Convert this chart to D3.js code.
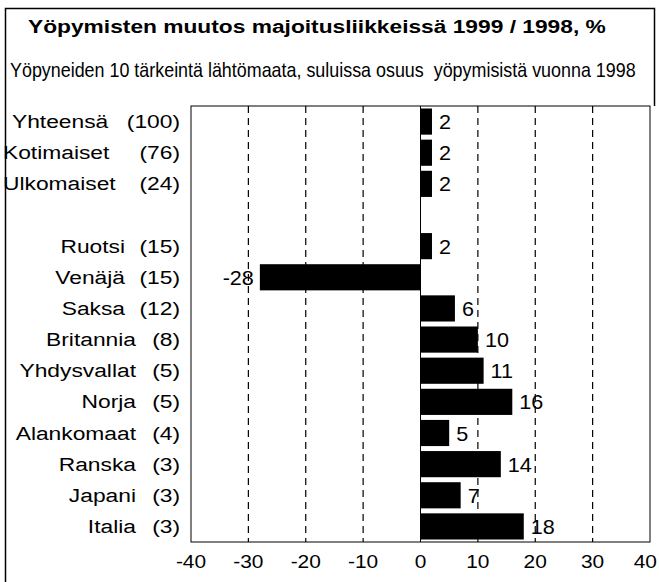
<!DOCTYPE html>
<html>
<head>
<meta charset="utf-8">
<script src="https://cdn.jsdelivr.net/npm/d3@7"></script>
<style>
  body { margin: 0; background: #fff; }
  svg { display: block; }
  text { font-family: "Liberation Sans", Arial, Helvetica, sans-serif; fill: #000; }
</style>
</head>
<body>
<svg id="chart" width="659" height="582"></svg>
<script>
// Rivit ylhäältä alas; tyhjä rivi erottaa kokonaisluvut maista
const categories = ["Yhteensä", "Kotimaiset", "Ulkomaiset", "", "Ruotsi", "Venäjä", "Saksa",
  "Britannia", "Yhdysvallat", "Norja", "Alankomaat", "Ranska", "Japani", "Italia"];
const shares = [100, 76, 24, null, 15, 15, 12, 8, 5, 5, 4, 3, 3, 3];
const changes = [2, 2, 2, null, 2, -28, 6, 10, 11, 16, 5, 14, 7, 18];
const xTicks = [-40, -30, -20, -10, 0, 10, 20, 30, 40];

const title = "Yöpymisten muutos majoitusliikkeissä 1999 / 1998, %";
const subtitle = "Yöpyneiden 10 tärkeintä lähtömaata, suluissa osuus  yöpymisistä vuonna 1998";

const svg = d3.select("#chart");
const plot = {left: 191, right: 650, top: 106, bottom: 542};

// Kehys (vasen ja ylä reuna)
svg.append("path")
  .attr("d", "M5.5,582 V8.5 H654.5 V106")
  .attr("fill", "none")
  .attr("stroke", "#000")
  .attr("stroke-width", 1.5);

// Otsikot: skaalataan vaakasuunnassa haluttuun leveyteen
function fitText(px, py, width, size, weight, str) {
  const t = svg.append("text")
    .attr("font-size", size)
    .attr("font-weight", weight)
    .style("white-space", "pre")
    .text(str);
  const sx = width / t.node().getComputedTextLength();
  t.attr("transform", `translate(${px},${py}) scale(${sx},1)`);
  return t;
}

fitText(28, 33, 578, 19, "bold", title);
fitText(10, 77, 626, 20, "normal", subtitle);

// Skaalat
const x = d3.scaleLinear().domain([-40, 40]).range([plot.left, plot.right]);
const y = d3.scaleBand()
  .domain(d3.range(categories.length))
  .range([plot.top, plot.bottom])
  .paddingInner(0.16)
  .paddingOuter(0.08);

// Apufunktio: teksti venytettynä vaakasuunnassa (alkuperäinen kuva on leveämpi)
function stretched(g, px, py, sx, anchor, size, str) {
  return g.append("text")
    .attr("transform", `translate(${px},${py}) scale(${sx},1)`)
    .attr("text-anchor", anchor)
    .attr("font-size", size)
    .text(str);
}

// Katkoviivaiset apuviivat
svg.append("g")
  .selectAll("line")
  .data(xTicks.filter(t => t !== 0 && t !== -40 && t !== 40))
  .join("line")
  .attr("x1", d => x(d)).attr("x2", d => x(d))
  .attr("y1", plot.top).attr("y2", plot.bottom)
  .attr("stroke", "#000")
  .attr("stroke-width", 1.2)
  .attr("stroke-dasharray", "7,5");

// Nollaviiva
svg.append("line")
  .attr("x1", x(0)).attr("x2", x(0))
  .attr("y1", plot.top).attr("y2", plot.bottom)
  .attr("stroke", "#000")
  .attr("stroke-width", 1);

// Palkit
const rows = categories.map((c, i) => ({name: c, share: shares[i], value: changes[i], i}))
  .filter(d => d.value !== null);

svg.append("g")
  .selectAll("rect")
  .data(rows)
  .join("rect")
  .attr("x", d => x(Math.min(0, d.value)))
  .attr("y", d => y(d.i))
  .attr("width", d => Math.abs(x(d.value) - x(0)))
  .attr("height", y.bandwidth())
  .attr("fill", "#000");

// Arvotekstit palkkien päässä
const valG = svg.append("g");
rows.forEach(d => {
  const cy = y(d.i) + y.bandwidth() / 2 + 7.5;
  if (d.value >= 0) {
    stretched(valG, x(d.value) + 7, cy, 1.08, "start", 20, d.value);
  } else {
    stretched(valG, x(d.value) - 6, cy, 1.08, "end", 20, d.value);
  }
});

// Rivien nimet ja osuudet
const labG = svg.append("g");
rows.forEach(d => {
  const cy = y(d.i) + y.bandwidth() / 2 + 6.5;
  if (d.i < 3) {
    stretched(labG, d.i === 0 ? 12 : 3, cy, 1.2, "start", 19, d.name);
  } else {
    stretched(labG, d.share >= 10 ? 125 : 136, cy, 1.2, "end", 19, d.name);
  }
  stretched(labG, 180, cy, 1.2, "end", 19, `(${d.share})`);
});

// Kuvaajan laatikko
svg.append("rect")
  .attr("x", plot.left).attr("y", plot.top)
  .attr("width", plot.right - plot.left)
  .attr("height", plot.bottom - plot.top)
  .attr("fill", "none")
  .attr("stroke", "#000")
  .attr("stroke-width", 1);

// X-akselin tekstit (viimeinen tasataan oikeaan reunaan, ettei se leikkaudu)
const tickG = svg.append("g");
xTicks.forEach((t, i) => {
  const last = i === xTicks.length - 1;
  stretched(tickG, last ? 657 : x(t), 568, 1.1, last ? "end" : "middle", 19, t);
});
</script>
</body>
</html>
